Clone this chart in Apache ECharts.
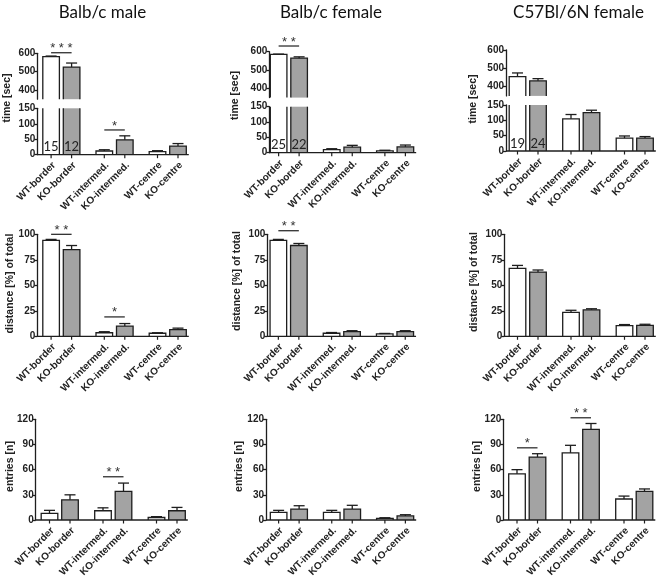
<!DOCTYPE html>
<html><head><meta charset="utf-8">
<script src="https://cdn.jsdelivr.net/npm/echarts@6/dist/echarts.min.js"></script>
<style>html,body{margin:0;padding:0;background:#fff}#c{width:662px;height:579px}</style>
</head><body><div id="c"></div>
<script>
// ---------------- data ----------------
const groups = ['border', 'intermed.', 'centre'];
const barNames = ['WT-border', 'KO-border', 'WT-intermed.', 'KO-intermed.', 'WT-centre', 'KO-centre'];
const columnTitles = ['Balb/c male', 'Balb/c female', 'C57Bl/6N female'];
const rowTitles = ['time [sec]', 'distance [%] of total', 'entries [n]'];

const timeUpperTicks = [400, 500, 600];
const timeLowerTicks = [0, 50, 100, 150];
const distanceTicks = [0, 25, 50, 75, 100];
const entriesTicks = [0, 30, 60, 90, 120];

// Balb/c male
const maleTimeWT = [582, 12, 10];
const maleTimeWTErr = [3, 4, 3];
const maleTimeKO = [525, 48, 28];
const maleTimeKOErr = [22, 13, 8];
const maleDistWT = [94, 3.5, 3];
const maleDistWTErr = [1, 1, 0.5];
const maleDistKO = [85, 10, 6.5];
const maleDistKOErr = [4, 2.5, 1.5];
const maleEntWT = [8, 11, 3];
const maleEntWTErr = [3.5, 3.5, 1];
const maleEntKO = [24, 34, 11];
const maleEntKOErr = [6, 10, 4];
const maleN = ['15', '12'];
const maleTimeSig = [[0, 603, '* * *'], [1, 80, '*']];
const maleDistSig = [[0, 100, '* *'], [1, 19, '*']];
const maleEntSig = [[1, 51.5, '* *']];

// Balb/c female
const femTimeWT = [585, 10, 6];
const femTimeWTErr = [2, 3, 2];
const femTimeKO = [565, 18, 19];
const femTimeKOErr = [7, 6, 6];
const femDistWT = [94, 3, 2.3];
const femDistWTErr = [1, 0.7, 0.5];
const femDistKO = [89, 4.5, 4.5];
const femDistKOErr = [2, 1, 1];
const femEntWT = [9, 9, 2];
const femEntWTErr = [2.5, 2.5, 0.7];
const femEntKO = [13, 13, 4.8];
const femEntKOErr = [4, 4.5, 1.5];
const femN = ['25', '22'];
const femTimeSig = [[0, 631, '* *']];
const femDistSig = [[0, 103.5, '* *']];
const femEntSig = [];

// C57Bl/6N female
const c57TimeWT = [455, 105, 42];
const c57TimeWTErr = [20, 14, 7];
const c57TimeKO = [432, 125, 42];
const c57TimeKOErr = [12, 8, 5];
const c57DistWT = [66.5, 23.5, 10.5];
const c57DistWTErr = [3, 2, 1];
const c57DistKO = [63, 26, 10.8];
const c57DistKOErr = [2, 1, 1];
const c57EntWT = [55, 80, 25];
const c57EntWTErr = [5, 9, 3.5];
const c57EntKO = [75, 108, 34];
const c57EntKOErr = [4, 7, 3];
const c57N = ['19', '24'];
const c57TimeSig = [];
const c57DistSig = [];
const c57EntSig = [[0, 86, '*'], [1, 121.8, '* *']];

// ---------------- styling / layout ----------------
const BW = 16.6, HALF = 10.25, CAP = 5.5;
const LINE = '#1e1e1e', KO_FILL = '#a3a3a3', WT_FILL = '#ffffff';
const AX_FAMILY = '"Liberation Sans", Arial, sans-serif';
const AX_FONT = 'bold 10px ' + AX_FAMILY;

const option = { animation: false, backgroundColor: '#fff', grid: [], xAxis: [], yAxis: [], series: [], graphic: [] };

function addPanel(p) {
  const gi = option.grid.length;
  option.grid.push({ left: p.left, top: p.top, width: p.width, height: p.height, containLabel: false });
  option.xAxis.push({ gridIndex: gi, type: 'category', data: groups, show: false });
  option.yAxis.push({
    gridIndex: gi, type: 'value', min: p.min, max: p.max, offset: p.left - p.axisX,
    axisLine: { show: true, lineStyle: { color: LINE, width: 1.3 } },
    axisTick: { show: true, inside: false, length: 3, customValues: p.ticks, lineStyle: { color: LINE, width: 1.3 } },
    axisLabel: { show: true, customValues: p.ticks, fontSize: 10, fontWeight: 'bold', fontFamily: AX_FAMILY, color: '#222', margin: 2 },
    splitLine: { show: false }
  });
  const data = [];
  for (let g = 0; g < groups.length; g++) {
    data.push([g, p.wt[g], p.wtErr[g], 0]);
    data.push([g, p.ko[g], p.koErr[g], 1]);
  }
  const last = data.length - 1;
  option.series.push({
    type: 'custom', xAxisIndex: gi, yAxisIndex: gi, data: data, encode: { x: 0, y: 1 }, clip: false, silent: true,
    renderItem: function (params, api) {
      const cs = params.coordSys;
      const top = cs.y, bottom = cs.y + cs.height;
      const g = api.value(0), v = api.value(1), e = api.value(2), side = api.value(3);
      const pt = api.coord([g, v]);
      const cx = pt[0] + (side ? HALF : -HALF);
      const x0 = cx - BW / 2, x1 = cx + BW / 2;
      const ch = [];
      if (pt[1] <= bottom) {
        const yT = Math.max(pt[1], top);
        ch.push({ type: 'rect', shape: { x: x0, y: yT, width: BW, height: bottom - yT }, style: { fill: side ? KO_FILL : WT_FILL } });
        if (pt[1] >= top) {
          ch.push({ type: 'polyline', shape: { points: [[x0, bottom], [x0, yT], [x1, yT], [x1, bottom]] }, style: { fill: null, stroke: LINE, lineWidth: 1.3 } });
          const ye = api.coord([g, v + e])[1];
          ch.push({ type: 'line', shape: { x1: cx, y1: yT, x2: cx, y2: ye }, style: { stroke: LINE, lineWidth: 1.3 } });
          ch.push({ type: 'line', shape: { x1: cx - CAP, y1: ye, x2: cx + CAP, y2: ye }, style: { stroke: LINE, lineWidth: 1.3 } });
        } else {
          ch.push({ type: 'line', shape: { x1: x0, y1: top, x2: x0, y2: bottom }, style: { stroke: LINE, lineWidth: 1.3 } });
          ch.push({ type: 'line', shape: { x1: x1, y1: top, x2: x1, y2: bottom }, style: { stroke: LINE, lineWidth: 1.3 } });
        }
      }
      if (p.hasXAxis) {
        ch.push({ type: 'line', shape: { x1: cx, y1: bottom, x2: cx, y2: bottom + 3.5 }, style: { stroke: LINE, lineWidth: 1.2 } });
        ch.push({ type: 'text', x: cx + 3, y: bottom + 9, rotation: Math.PI / 4,
          style: { text: barNames[g * 2 + side], align: 'right', verticalAlign: 'middle', font: AX_FONT, fill: '#222' } });
      }
      if (p.nText && g === 0) {
        ch.push({ type: 'text', x: cx, y: bottom - 7.5,
          style: { text: p.nText[side], align: 'center', verticalAlign: 'middle', font: '13px Lato, "Open Sans", sans-serif', fill: '#222' } });
      }
      if (p.hasXAxis && params.dataIndex === last) {
        const endX = api.coord([groups.length - 1, 0])[0] + HALF + BW / 2 + 2.5;
        ch.push({ type: 'line', shape: { x1: p.axisX, y1: bottom, x2: endX, y2: bottom }, style: { stroke: LINE, lineWidth: 1.3 } });
      }
      return { type: 'group', children: ch };
    }
  });
  if (p.sig && p.sig.length) {
    option.series.push({
      type: 'custom', xAxisIndex: gi, yAxisIndex: gi, data: p.sig.map(s => [s[0], s[1]]), encode: { x: 0, y: 1 }, clip: false, silent: true,
      renderItem: function (params, api) {
        const pt = api.coord([api.value(0), api.value(1)]);
        const txt = p.sig[params.dataIndex][2];
        return { type: 'group', children: [
          { type: 'line', shape: { x1: pt[0] - HALF, y1: pt[1], x2: pt[0] + HALF, y2: pt[1] }, style: { stroke: LINE, lineWidth: 1.2 } },
          { type: 'text', x: pt[0], y: pt[1] - 4, style: { text: txt, align: 'center', verticalAlign: 'middle', font: '13px ' + AX_FAMILY, fill: '#333' } }
        ] };
      }
    });
  }
}

const cols = [
  { L: [34.75, 34.75, 33], W: [159.6, 159.6, 160.5], axisX: [37.3, 37.3, 35.7], upTop: 53.3, lowTop: 108.3, zero: 154.7,
    time: [maleTimeWT, maleTimeWTErr, maleTimeKO, maleTimeKOErr], dist: [maleDistWT, maleDistWTErr, maleDistKO, maleDistKOErr],
    ent: [maleEntWT, maleEntWTErr, maleEntKO, maleEntKOErr], n: maleN, sig: [maleTimeSig, maleDistSig, maleEntSig] },
  { L: [262.3, 262, 262.3], W: [159.4, 159.6, 159.4], axisX: [269.3, 267.3, 266], upTop: 51.7, lowTop: 106.7, zero: 152.7,
    time: [femTimeWT, femTimeWTErr, femTimeKO, femTimeKOErr], dist: [femDistWT, femDistWTErr, femDistKO, femDistKOErr],
    ent: [femEntWT, femEntWTErr, femEntKO, femEntKOErr], n: femN, sig: [femTimeSig, femDistSig, femEntSig] },
  { L: [501, 501, 500.5], W: [160.5, 160.5, 160.5], axisX: [506, 504.3, 503.3], upTop: 50, lowTop: 105, zero: 151,
    time: [c57TimeWT, c57TimeWTErr, c57TimeKO, c57TimeKOErr], dist: [c57DistWT, c57DistWTErr, c57DistKO, c57DistKOErr],
    ent: [c57EntWT, c57EntWTErr, c57EntKO, c57EntKOErr], n: c57N, sig: [c57TimeSig, c57DistSig, c57EntSig] }
];

cols.forEach(function (c) {
  const t = c.time;
  addPanel({ left: c.L[0], top: c.upTop, width: c.W[0], height: 45.9, min: 350, max: 600, ticks: timeUpperTicks, axisX: c.axisX[0],
    hasXAxis: false, wt: t[0], wtErr: t[1], ko: t[2], koErr: t[3], sig: c.sig[0].filter(s => s[1] >= 350) });
  addPanel({ left: c.L[0], top: c.lowTop, width: c.W[0], height: c.zero - c.lowTop, min: 0, max: 150, ticks: timeLowerTicks, axisX: c.axisX[0],
    hasXAxis: true, wt: t[0], wtErr: t[1], ko: t[2], koErr: t[3], nText: c.n, sig: c.sig[0].filter(s => s[1] < 350) });
  const d = c.dist;
  addPanel({ left: c.L[1], top: 234.3, width: c.W[1], height: 102, min: 0, max: 100, ticks: distanceTicks, axisX: c.axisX[1],
    hasXAxis: true, wt: d[0], wtErr: d[1], ko: d[2], koErr: d[3], sig: c.sig[1] });
  const en = c.ent;
  addPanel({ left: c.L[2], top: 419.3, width: c.W[2], height: 100.7, min: 0, max: 120, ticks: entriesTicks, axisX: c.axisX[2],
    hasXAxis: true, wt: en[0], wtErr: en[1], ko: en[2], koErr: en[3], sig: c.sig[2] });
});

// titles
const titlePos = [[102.5, 13], [331, 13], [578.5, 13]];
columnTitles.forEach(function (t, i) {
  option.graphic.push({ type: 'text', x: titlePos[i][0], y: titlePos[i][1], silent: true,
    style: { text: t, align: 'center', verticalAlign: 'middle', font: '17px Lato, "Open Sans", sans-serif', fill: '#111' } });
});
// y-axis titles
const yTitlePos = [
  [[7.5, 98], [235, 95.5], [473.3, 99]],
  [[10.5, 283.5], [237, 281], [474.5, 282]],
  [[9.7, 466.5], [239, 466.5], [477.5, 466.5]]
];
rowTitles.forEach(function (t, r) {
  for (let c = 0; c < 3; c++) {
    option.graphic.push({ type: 'text', x: yTitlePos[r][c][0], y: yTitlePos[r][c][1], rotation: Math.PI / 2, silent: true,
      style: { text: t, align: 'center', verticalAlign: 'middle', font: 'bold 10.5px ' + AX_FAMILY, fill: '#222' } });
  }
});

const chart = echarts.init(document.getElementById('c'), null, { renderer: 'canvas' });
chart.setOption(option);
</script>
</body></html>
